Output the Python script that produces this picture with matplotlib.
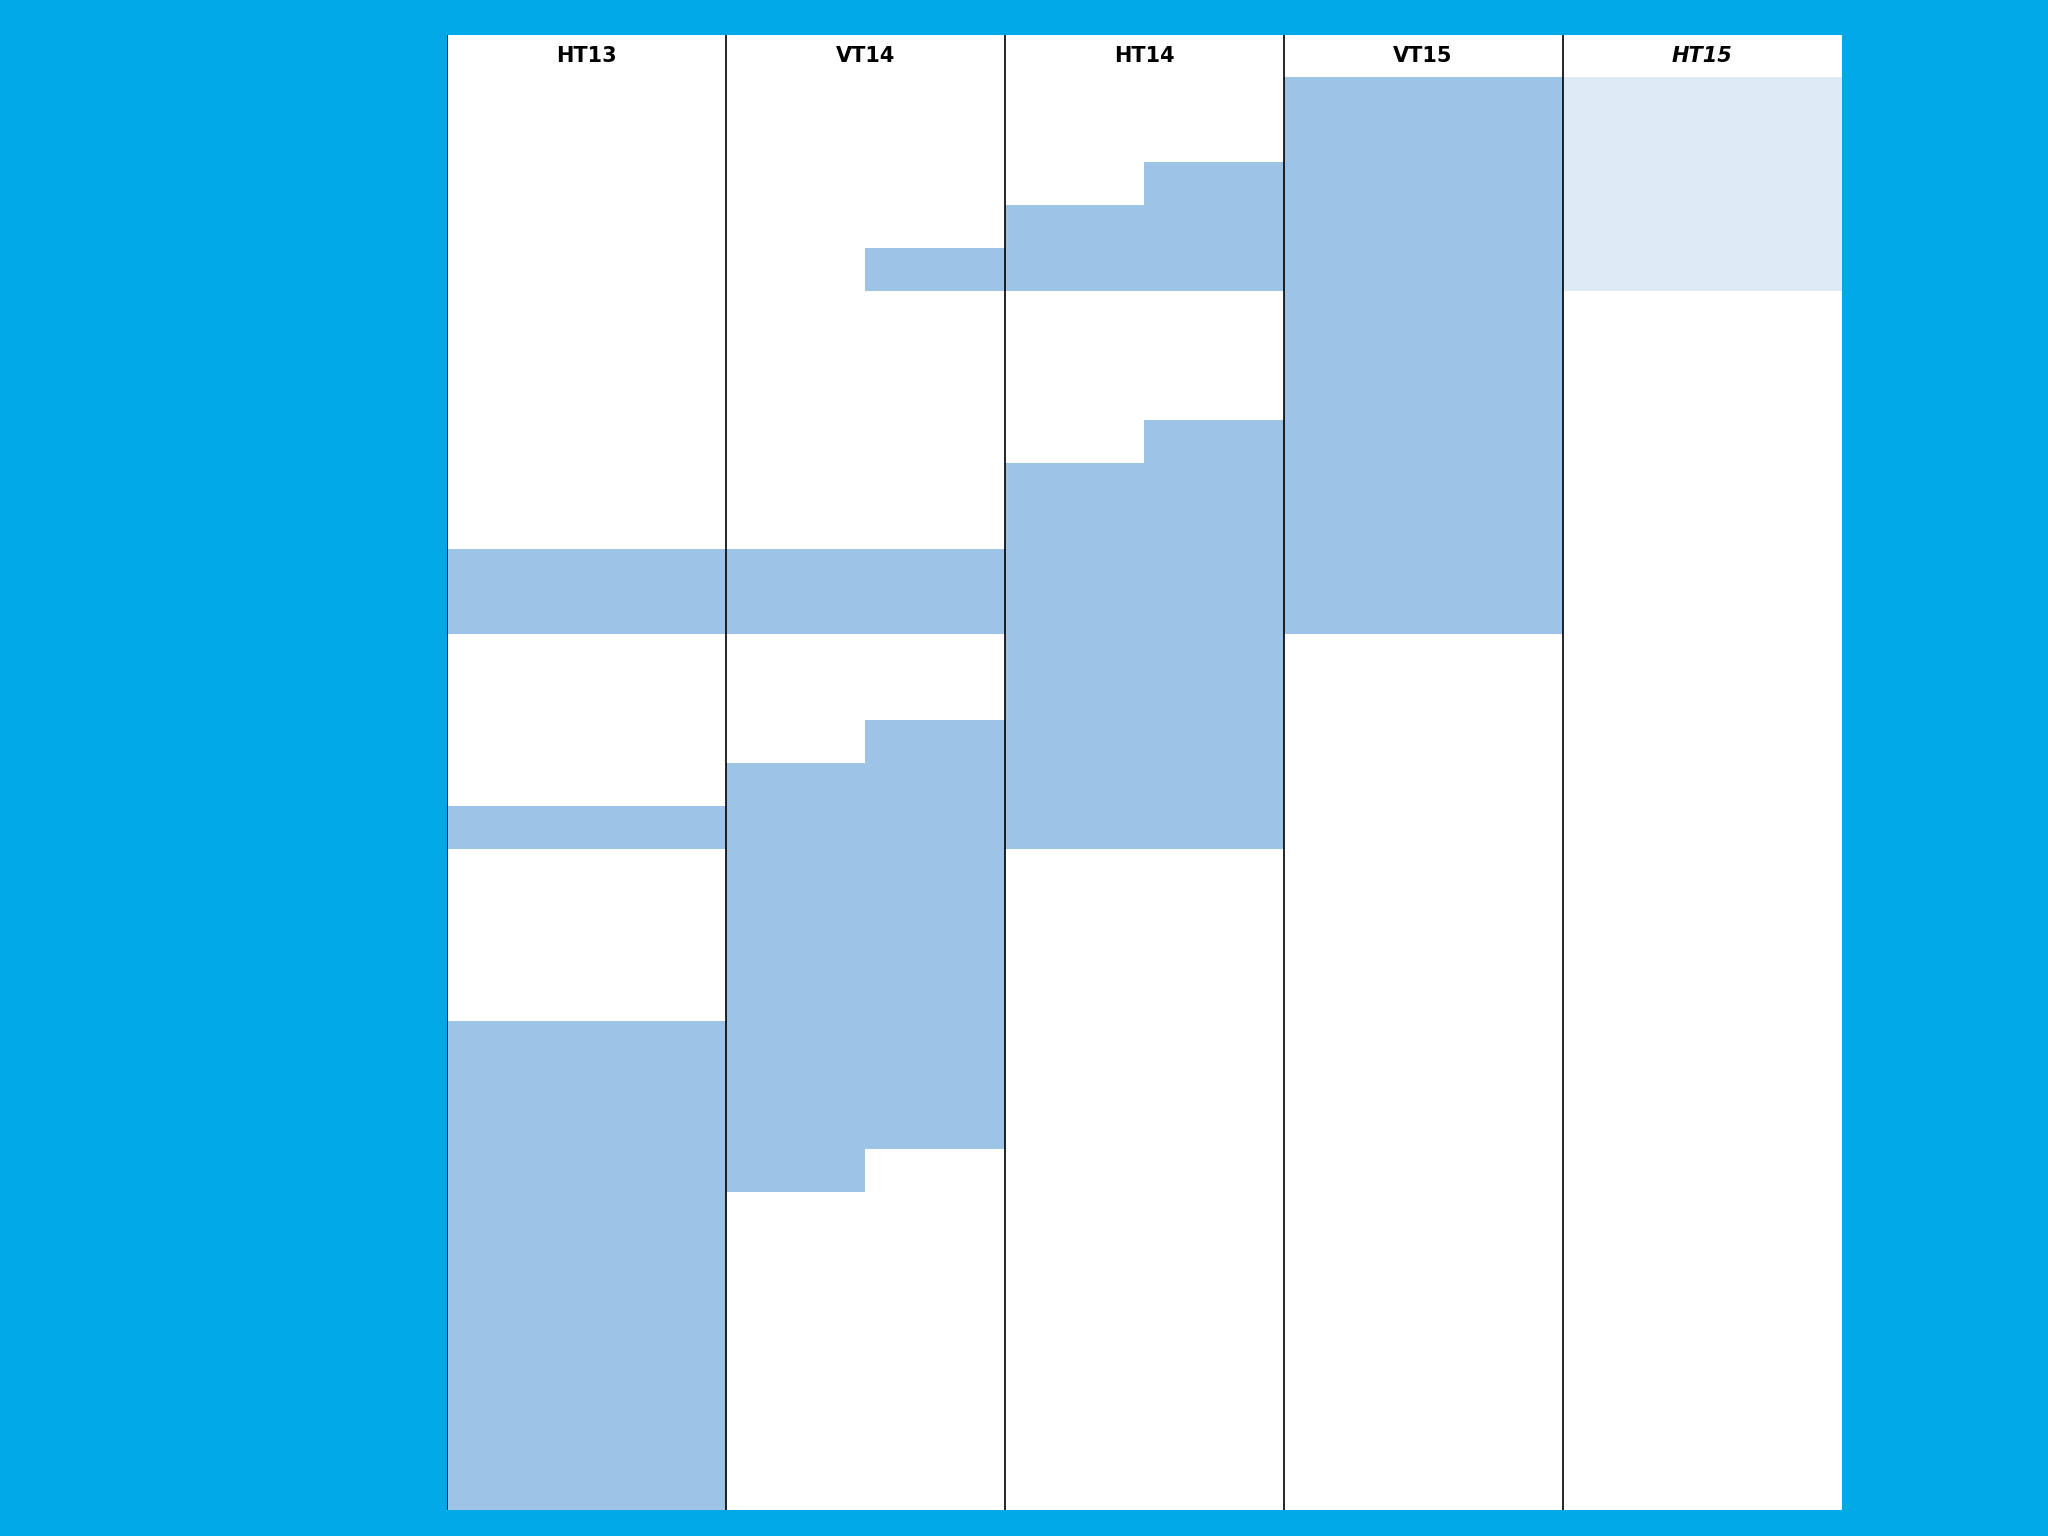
import matplotlib
matplotlib.use("Agg")
import matplotlib.pyplot as plt

terms = ["HT13", "VT14", "HT14", "VT15", "HT15"]
# bars in half-column units (x) and row units (y, downward from header)
bar_x0 = [0, 0, 0, 2, 3, 2, 3, 4, 5, 4, 5, 6]
bar_x1 = [2, 2, 2, 4, 4, 3, 4, 5, 6, 5, 6, 8]
bar_y0 = [11, 17, 22, 11, 4, 16, 15, 3, 2, 9, 8, 0]
bar_y1 = [13, 18, 33.4, 13, 5, 26, 25, 5, 5, 18, 18, 13]
light_x0, light_x1, light_y0, light_y1 = [8], [10], [0], [5]

BG = "#00A8E8"
fig = plt.figure(figsize=(20.48, 15.36), dpi=100, facecolor=BG)
ax = fig.add_axes([0.2181, 0.017, 0.6811, 0.96])
ax.set_facecolor("white")
ax.set_xlim(0, 10)
ax.set_ylim(33.4, -0.96)

ax.bar(bar_x0, [b - a for a, b in zip(bar_y0, bar_y1)],
       width=[b - a for a, b in zip(bar_x0, bar_x1)], bottom=bar_y0,
       align="edge", color="#9DC3E6", linewidth=0)
ax.bar(light_x0, [b - a for a, b in zip(light_y0, light_y1)],
       width=[b - a for a, b in zip(light_x0, light_x1)], bottom=light_y0,
       align="edge", color="#DEEBF7", linewidth=0)

for i in range(5):
    ax.axvline(2 * i, color="black", linewidth=1.2)
    ax.text(2 * i + 1, -0.48, terms[i], ha="center", va="center",
            fontsize=15, fontweight="bold", family="DejaVu Sans",
            style="italic" if i == 4 else "normal")

for s in ax.spines.values():
    s.set_visible(False)
ax.set_xticks([])
ax.set_yticks([])
fig.savefig("out.png", facecolor=BG)
